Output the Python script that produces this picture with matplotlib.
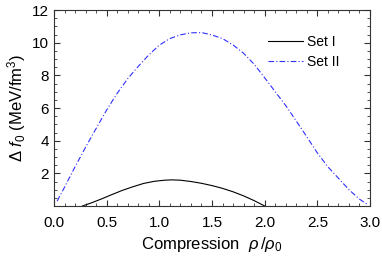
import numpy as np
import matplotlib.pyplot as plt
from matplotlib.ticker import MultipleLocator

# Set I (solid black)
set1_x = [0.27, 0.35, 0.45, 0.55, 0.65, 0.75, 0.85, 0.95, 1.05, 1.12, 1.2, 1.3, 1.4, 1.5, 1.6, 1.7, 1.8, 1.9, 2.0]
set1_y = [0.0, 0.18, 0.43, 0.70, 0.96, 1.18, 1.38, 1.51, 1.58, 1.6, 1.58, 1.5, 1.39, 1.25, 1.08, 0.87, 0.62, 0.33, 0.0]

# Set II (blue dash-dot)
set2_x = [0.03, 0.1, 0.2, 0.3, 0.4, 0.5, 0.6, 0.7, 0.8, 0.9, 1.0, 1.1, 1.2, 1.3, 1.4, 1.5, 1.6, 1.7, 1.8,
          1.9, 2.0, 2.1, 2.2, 2.3, 2.4, 2.5, 2.6, 2.7, 2.8, 2.9, 2.97]
set2_y = [0.3, 1.15, 2.4, 3.6, 4.75, 5.88, 6.9, 7.8, 8.55, 9.25, 9.85, 10.25, 10.48, 10.6, 10.62, 10.47, 10.25, 9.86, 9.35,
          8.68, 7.85, 7.0, 6.15, 5.2, 4.24, 3.25, 2.4, 1.7, 1.0, 0.42, 0.12]

x_ticks = [0.0, 0.5, 1.0, 1.5, 2.0, 2.5, 3.0]
y_ticks = [2, 4, 6, 8, 10, 12]

plt.rcParams['font.family'] = ['Liberation Sans', 'DejaVu Sans']
plt.rcParams['mathtext.fontset'] = 'custom'
plt.rcParams['mathtext.it'] = 'Liberation Sans:italic'
plt.rcParams['mathtext.rm'] = 'Liberation Sans'

figure_1 = plt.figure(figsize=(3.82, 2.56), dpi=100)
axis_1 = figure_1.add_axes([54 / 382, 50 / 256, 316 / 382, 196 / 256])

axis_1.plot(set1_x, set1_y, c='k', lw=0.8, label="Set I")
axis_1.plot(set2_x, set2_y, c='#3030ff', lw=0.8, linestyle=(0, (5, 2, 1, 2)), label="Set II")

axis_1.set_xlim(0, 3)
axis_1.set_ylim(0, 12)
axis_1.set_xticks(x_ticks)
axis_1.set_xticklabels(["%.1f" % t for t in x_ticks])
axis_1.set_yticks(y_ticks)
axis_1.xaxis.set_minor_locator(MultipleLocator(0.1))
axis_1.yaxis.set_minor_locator(MultipleLocator(0.5))
axis_1.tick_params(which='both', direction='in', top=True, right=True, labelsize=11, colors='#333333',
                   labelcolor='black')
axis_1.tick_params(axis='x', which='major', pad=7)
axis_1.tick_params(which='major', length=4, width=0.8)
axis_1.tick_params(which='minor', length=2, width=0.6)
for spine in axis_1.spines.values():
    spine.set_color('#333333')
    spine.set_linewidth(0.8)

axis_1.set_xlabel(r"Compression  $\rho\,/\rho_0$", fontsize=12, labelpad=4)
axis_1.set_ylabel(r"$\Delta\ f_0$ (MeV/fm$^3$)", fontsize=12, labelpad=3)

axis_1.legend(loc='upper left', bbox_to_anchor=(0.677, 0.872), frameon=False, fontsize=10,
              borderpad=0, borderaxespad=0, handlelength=2.5, handletextpad=0.3, labelspacing=0.45)

plt.savefig("out.png", dpi=100)
